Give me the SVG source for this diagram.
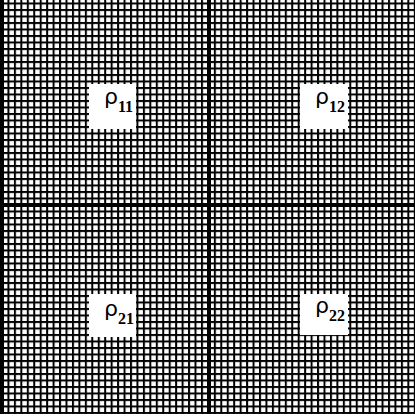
<svg xmlns="http://www.w3.org/2000/svg" width="415" height="418" viewBox="0 0 415 418">
<defs>
<pattern id="grid" patternUnits="userSpaceOnUse" x="1" y="-4" width="6.45" height="6.5">
<rect x="0" y="0" width="2" height="6.5" fill="#000"/>
<rect x="0" y="0" width="6.45" height="2" fill="#000"/>
</pattern>
</defs>
<style>
.lbl{fill:#fff}
.rho{font-family:"DejaVu Sans",sans-serif;font-size:22px;fill:#000}
.sub{font-family:"Liberation Serif",serif;font-size:16px;font-weight:bold;fill:#000}
</style>
<rect width="415" height="418" fill="#fff"/>
<rect x="0" y="0" width="415" height="414" fill="url(#grid)"/>
<g id="thick">
<rect x="0" y="0" width="4" height="414" fill="#000"/>
<rect x="207" y="0" width="4" height="414" fill="#000"/>
<rect x="0" y="203" width="415" height="4" fill="#000"/>
</g>
<g id="rho11">
<rect class="lbl" x="89" y="84" width="47" height="45"/>
<text x="104" y="104"><tspan class="rho">ρ</tspan><tspan class="sub" dy="8">11</tspan></text>
</g>
<g id="rho12">
<rect class="lbl" x="300" y="84" width="48" height="45"/>
<text x="315" y="104"><tspan class="rho">ρ</tspan><tspan class="sub" dy="8">12</tspan></text>
</g>
<g id="rho21">
<rect class="lbl" x="89" y="294" width="47" height="43"/>
<text x="104" y="316"><tspan class="rho">ρ</tspan><tspan class="sub" dy="8">21</tspan></text>
</g>
<g id="rho22">
<rect class="lbl" x="300" y="294" width="48" height="41"/>
<text x="315" y="313"><tspan class="rho">ρ</tspan><tspan class="sub" dy="8">22</tspan></text>
</g>
</svg>
